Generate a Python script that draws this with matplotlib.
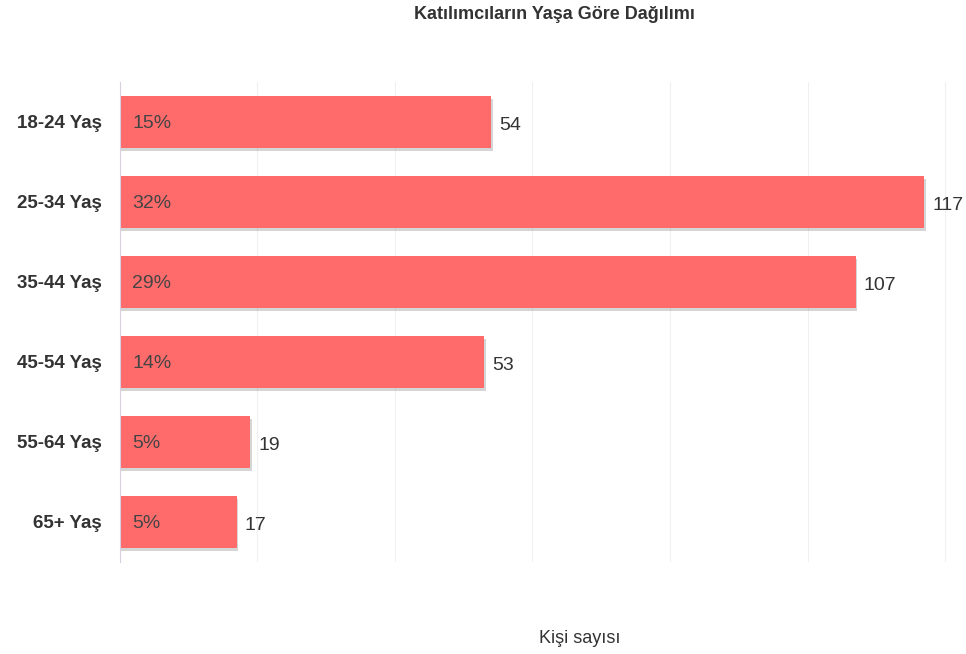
import matplotlib
matplotlib.use("Agg")
import matplotlib.pyplot as plt
import matplotlib.patheffects as pe

plt.rcParams['font.family'] = ['Liberation Sans', 'DejaVu Sans']

groups = ["18-24 Yaş", "25-34 Yaş", "35-44 Yaş", "45-54 Yaş", "55-64 Yaş", "65+ Yaş"]
counts = [54, 117, 107, 53, 19, 17]
percents = ["15%", "32%", "29%", "14%", "5%", "5%"]

fig = plt.figure(figsize=(9.66, 6.54), dpi=100)
ax = fig.add_axes([0.124, 0.141, 0.865, 0.734])

ypos = list(range(len(groups)))
bars = ax.barh(ypos, counts, height=0.65, color="#FF6B6B",
               path_effects=[pe.SimplePatchShadow(offset=(1, -2), shadow_rgbFace="#777777", alpha=0.3), pe.Normal()])

ax.set_ylim(len(groups) - 0.5, -0.5)
ax.set_xlim(0, 121.5)
ax.set_yticks(ypos)
ax.set_yticklabels(groups, fontsize=13.5, fontweight="bold", color="#333333")
ax.tick_params(axis="y", length=0, pad=13)
ax.set_xticks([0, 20, 40, 60, 80, 100, 120])
ax.tick_params(axis="x", length=0, labelbottom=False)
ax.grid(axis="x", color="#f0f0f0", linewidth=0.8)
ax.set_axisbelow(True)
for s in ["top", "right", "bottom"]:
    ax.spines[s].set_visible(False)
ax.spines["left"].set_color("#d8d0e0")
ax.spines["left"].set_linewidth(0.8)

for y, c, p in zip(ypos, counts, percents):
    ax.annotate(p, (0, y), xytext=(9, -1), textcoords="offset points",
                va="center", ha="left", fontsize=14, color="#444444")
    ax.annotate(str(c), (c, y), xytext=(5.5, -2.5), textcoords="offset points",
                va="center", ha="left", fontsize=14, color="#333333")

fig.text(0.574, 0.978, "Katılımcıların Yaşa Göre Dağılımı", ha="center", va="center",
         fontsize=13, fontweight="bold", color="#333333")
fig.text(0.6, 0.024, "Kişi sayısı", ha="center", va="center", fontsize=13, color="#333333")

fig.savefig("out.png", dpi=100)
